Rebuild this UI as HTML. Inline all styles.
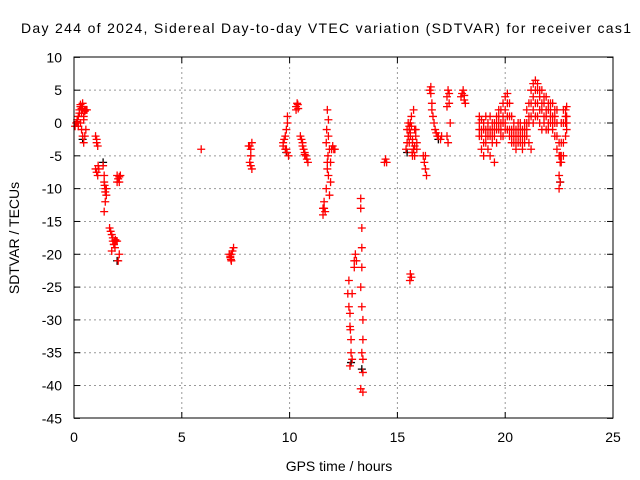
<!DOCTYPE html>
<html><head><meta charset="utf-8"><style>
html,body{margin:0;padding:0;background:#fff;}
svg{display:block;font-family:"Liberation Sans",sans-serif;}
</style></head><body>
<svg id="chart" width="640" height="480" viewBox="0 0 640 480">
<rect width="640" height="480" fill="#fff"/>
<g id="grid"></g>
<g id="ticks"></g>
<g id="black"></g>
<g id="red"></g>
<rect x="74" y="57" width="539" height="361" fill="none" stroke="#000" stroke-width="1"/>
<text x="326" y="33" text-anchor="middle" font-size="14" textLength="610">Day 244 of 2024, Sidereal Day-to-day VTEC variation (SDTVAR) for receiver cas1</text>
<text x="339" y="471" text-anchor="middle" font-size="14">GPS time / hours</text>
<text transform="translate(19,238) rotate(-90)" text-anchor="middle" font-size="14">SDTVAR / TECUs</text>
</svg>
<script>
const xTicks=[0,5,10,15,20,25];
const yTicks=[10,5,0,-5,-10,-15,-20,-25,-30,-35,-40,-45];
const redHours=[0.05,0.1,0.15,0.2,0.25,0.3,0.35,0.4,0.45,0.5,0.55,0.6,0.35,0.4,0.45,0.5,0.3,0.2,0.55,0.25,0.4,0.45,0.3,0.35,0.5,0.15,
1.0,1.05,1.1,1.0,1.05,1.1,1.15,1.05,1.12,
1.35,1.4,1.4,1.45,1.45,1.5,1.4,1.45,1.5,1.42,
1.65,1.7,1.75,1.8,1.85,1.9,1.95,2.0,1.75,2.05,2.1,1.8,1.85,1.88,1.92,
2.0,2.05,2.1,2.0,2.15,2.1,
5.9,
7.2,7.25,7.3,7.35,7.3,7.4,7.25,7.28,
8.1,8.15,8.2,8.25,8.2,8.15,8.2,8.25,
9.7,9.75,9.8,9.85,9.9,9.9,9.85,9.95,9.8,9.7,9.88,
10.3,10.35,10.4,10.3,10.38,
10.5,10.55,10.6,10.65,10.7,10.75,10.8,10.6,10.85,10.7,
11.55,11.6,11.6,11.65,11.55,11.7,11.75,11.75,11.8,11.8,11.8,11.85,11.85,11.9,11.9,11.95,12.0,12.05,12.1,11.7,11.75,11.72,11.78,
12.7,12.75,12.8,12.8,12.85,12.85,12.9,12.75,12.8,12.9,13.0,13.05,13.1,13.0,12.82,
13.3,13.3,13.35,13.35,13.35,13.3,13.35,13.4,13.4,13.35,13.4,13.4,13.3,13.4,
14.4,14.45,14.5,
15.4,15.45,15.5,15.55,15.6,15.65,15.7,15.75,15.8,15.85,15.9,15.5,15.6,15.7,15.8,15.6,15.65,15.55,15.75,15.9,15.45,15.5,15.55,15.6,15.65,15.7,15.75,15.8,15.85,15.58,15.68,
16.2,16.25,16.3,16.35,16.3,
16.5,16.55,16.6,16.65,16.7,16.75,16.8,16.85,16.9,17.0,17.05,16.55,16.6,
17.3,17.35,17.4,17.45,17.3,17.35,17.3,17.4,
18.0,18.05,18.1,18.15,17.95,18.1,
18.8,18.8,18.8,18.8,18.9,18.9,18.9,18.9,19.0,19.0,19.0,19.0,19.1,19.1,19.1,19.1,19.2,19.2,19.2,19.2,
19.3,19.3,19.3,19.3,19.4,19.4,19.4,19.4,19.5,19.5,19.5,19.5,19.6,19.6,19.6,19.6,19.7,19.7,19.7,19.7,
19.8,19.8,19.8,19.8,19.9,19.9,19.9,19.9,20.0,20.0,20.0,20.0,20.1,20.1,20.1,20.1,20.2,20.2,20.2,20.2,
20.3,20.3,20.3,20.3,20.4,20.4,20.4,20.4,20.5,20.5,20.5,20.5,20.6,20.6,20.6,20.6,20.7,20.7,20.7,20.7,
20.8,20.8,20.8,20.8,20.9,20.9,20.9,20.9,21.0,21.0,21.0,21.0,21.1,21.1,21.1,21.1,21.2,21.2,21.2,21.2,
21.3,21.3,21.3,21.3,21.4,21.4,21.4,21.4,21.5,21.5,21.5,21.5,21.6,21.6,21.6,21.6,21.7,21.7,21.7,21.7,
21.8,21.8,21.8,21.8,21.9,21.9,21.9,21.9,22.0,22.0,22.0,22.0,22.1,22.1,22.1,22.1,22.2,22.2,22.2,22.2,
22.3,22.3,22.3,22.3,22.4,22.4,22.4,22.4,22.5,22.5,22.5,22.5,22.55,22.55,22.55,22.55,22.6,22.6,22.6,22.6,
22.7,22.7,22.7,22.7,22.8,22.8,22.8,22.8,22.85,22.85,22.85,22.85];
const redValues=[-0.5,0,0.5,1,2,2.5,1.5,2,1,2,2,2,-1,-2,-3,-2,0,-0.5,-1,1.5,3,0.5,2.8,2.2,1.8,0.2,
-2,-3,-3.5,-7,-7.5,-8,-7,-2.5,-6.5,
-6.5,-8,-9,-10,-10.5,-11,-13.5,-12,-10,-9.5,
-16,-16.5,-17,-18,-18.5,-19,-18,-18,-19.5,-21,-20,-17.5,-18.5,-18,-17.8,
-8,-8.5,-9,-9,-8,-8.2,
-4,
-20,-20.5,-20,-19.5,-21,-19,-20.3,-20.8,
-3.5,-3.5,-4,-3,-5,-6,-6.5,-7,
-3,-2.5,-2,-1,0,1,-4,-5,-4,-3.5,-4.5,
2.5,3,2.2,2,2.8,
-2,-2.5,-3,-4,-4.5,-5,-5.5,-3.5,-6,-4.8,
-14,-13,-12,-13.5,-13,-10,-6,2,-2,0.5,-8,-4,-11,-9,-6,-4,-3.5,-4,-4,-3,-7,-1,-5,
-26,-28,-29,-31,-33,-35,-36,-24,-37,-26,-21,-20,-21,-22,-31.5,
-11.5,-13,-16,-19,-22,-25,-28,-30,-33,-35,-36,-38,-40.5,-41,
-6,-5.5,-6,
-4,-3,-2,-1,0,1,-3,-4,-1,-2,-3,0,-2,-5,-5,-23,-23.5,-0.5,2,-4,-1,-2,-3,-1.5,-0.5,-2.5,-4,-3.5,-1,-24,-4.5,
-5,-6,-7,-8,-5,
5,5.5,3,1,0,-1,-1.5,-2,-2,-2.5,-2,4.5,2,
4,5,3,0,-2,-3,2.5,4.5,
4.5,5,3.5,3,4,4.2,
0,-1,1,-2, 0.5,-1,-2,-4, -1,0,-3,-5, 1,-1,-2,-3, 0,-2,-1,-4,
1,-1,-2,-5, -1,0,-2,-3, 0,-1,-2,-6, 1,0,-1,-3, 2,1,0,-1,
2,0,-1,-2, 3,1,0,-2, 4,2,0,-1, 4.5,3,1,-1, 3,1,-1,-2,
1,-1,-2,-3, 0,-1,-2,-3, -1,-2,-3,-4, 0,-1,-2,-3, 0,-1,-2,-3,
-1,-2,-3,-4, 0,-1,-2,-3, 2,0,-1,-2, 3,1,0,-3, 5,3,1,-4,
6,4,2,0, 6.5,5,3,1, 6,5,3,1, 5,4,2,0, 5,3,2,-1,
4,3,1,0, 4,2,1,-1, 3,2,0,-1, 3,2,1,0, 3,1,0,-1,
2,1,0,-2, 2,0,-2,-4, -3,-5,-8,-10, -6,-9,-5,-6, 0,-3,-5,-6,
2,0,-3,-5, 2,1,0,-2, 2.5,1,0,-1];
const blackHours=[0.4,1.35,2.0,9.85,12.85,13.35,15.45,16.9,22.55];
const blackValues=[-2.5,-6,-21,-4.5,-36.5,-37.5,-4.5,-2.5,-9];
const X=h=>74+h*(539/25), Y=v=>123-v*(361/55);
const NS="http://www.w3.org/2000/svg";
function mk(t,a,p){const e=document.createElementNS(NS,t);for(const k in a)e.setAttribute(k,a[k]);p.appendChild(e);return e;}
const grid=document.getElementById('grid'),ticks=document.getElementById('ticks');
xTicks.forEach(t=>{const x=X(t);
 if(t>0&&t<25){const l=mk('line',{x1:x,x2:x,y1:57,y2:418,stroke:'#999','stroke-dasharray':'2,3'},grid);
 
 }
 mk('line',{x1:x,x2:x,y1:418,y2:412,stroke:'#000'},ticks);mk('line',{x1:x,x2:x,y1:57,y2:63,stroke:'#000'},ticks);
 const s=mk('text',{x:x,y:442,'text-anchor':'middle','font-size':14},ticks);s.textContent=t;
 
 });
yTicks.forEach(t=>{const y=Y(t);
 if(t<10&&t>-45){const l=mk('line',{x1:74,x2:613,y1:y,y2:y,stroke:'#999','stroke-dasharray':'2,3'},grid);
 
 }
 mk('line',{x1:74,x2:80,y1:y,y2:y,stroke:'#000'},ticks);mk('line',{x1:607,x2:613,y1:y,y2:y,stroke:'#000'},ticks);
 const s=mk('text',{x:62,y:y+5,'text-anchor':'end','font-size':14},ticks);s.textContent=t;
 
 });
function plus(g,h,v,c){const x=X(h),y=Y(v);
 const p=mk('path',{d:`M${x-4} ${y}H${x+4}M${x} ${y-4}V${y+4}`,stroke:c,'stroke-width':1.3,fill:'none'},g);
 
 }
const bg=document.getElementById('black'),rg=document.getElementById('red');
blackHours.forEach((h,i)=>plus(bg,h,blackValues[i],'#000'));
redHours.forEach((h,i)=>plus(rg,h,redValues[i],'#f00'));
</script>
</body></html>
